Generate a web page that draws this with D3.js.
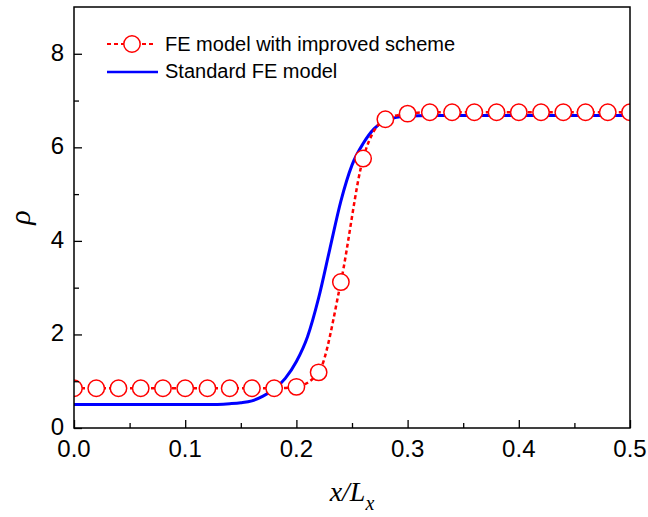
<!DOCTYPE html>
<html>
<head>
<meta charset="utf-8">
<script src="https://cdn.jsdelivr.net/npm/d3@7"></script>
<style>
  body { margin: 0; background: #fff; }
  text { font-family: "Liberation Sans", Arial, sans-serif; }
</style>
</head>
<body>
<div id="chart"></div>
<script>
// improved scheme (circles)
const improvedX = [0, 0.02, 0.04, 0.06, 0.08, 0.10, 0.12, 0.14, 0.16, 0.18, 0.20, 0.22, 0.24, 0.26,
  0.28, 0.30, 0.32, 0.34, 0.36, 0.38, 0.40, 0.42, 0.44, 0.46, 0.48, 0.50]
const improvedY = [0.85, 0.85, 0.85, 0.85, 0.85, 0.85, 0.85, 0.85, 0.85, 0.85, 0.88, 1.19, 3.12, 5.76,
  6.60, 6.72, 6.75, 6.75, 6.75, 6.75, 6.75, 6.75, 6.75, 6.75, 6.75, 6.75]

// standard FE model (solid)
const standardX = [0, 0.04, 0.08, 0.12, 0.14, 0.15, 0.16, 0.17, 0.18, 0.19, 0.20, 0.21, 0.22, 0.23,
  0.24, 0.25, 0.26, 0.27, 0.28, 0.29, 0.30, 0.32, 0.36, 0.40, 0.45, 0.50]
const standardY = [0.50, 0.50, 0.50, 0.50, 0.52, 0.54, 0.58, 0.68, 0.83, 1.06, 1.42, 1.95, 2.78, 3.82,
  4.85, 5.62, 6.08, 6.40, 6.57, 6.64, 6.67, 6.68, 6.68, 6.68, 6.68, 6.68]

const xTicks = [0, 0.1, 0.2, 0.3, 0.4, 0.5]
const yTicks = [0, 2, 4, 6, 8]
const legendLabels = ["FE model with improved scheme", "Standard FE model"]

const width = 648, height = 517
const margin = {left: 74, right: 18, top: 7, bottom: 89}

const svg = d3.select("#chart").append("svg")
    .attr("width", width)
    .attr("height", height)

const x = d3.scaleLinear().domain([0, 0.5]).range([margin.left, width - margin.right])
const y = d3.scaleLinear().domain([0, 9]).range([height - margin.bottom, margin.top])

const improved = improvedX.map((d, i) => ({x: d, y: improvedY[i]}))
const standard = standardX.map((d, i) => ({x: d, y: standardY[i]}))

const line = d3.line().x(d => x(d.x)).y(d => y(d.y)).curve(d3.curveMonotoneX)

svg.append("defs").append("clipPath").attr("id", "clip")
  .append("rect")
    .attr("x", margin.left).attr("y", margin.top)
    .attr("width", x(0.5) - x(0)).attr("height", y(0) - y(9))

// blue line
svg.append("path")
    .datum(standard)
    .attr("d", line)
    .attr("fill", "none")
    .attr("stroke", "#0000ff")
    .attr("stroke-width", 3)

// red dashed line + circles
svg.append("path")
    .datum(improved)
    .attr("d", line)
    .attr("fill", "none")
    .attr("stroke", "#ff0000")
    .attr("stroke-width", 2.5)
    .attr("stroke-dasharray", "4,3")

svg.append("g")
    .attr("clip-path", "url(#clip)")
  .selectAll("circle")
  .data(improved)
  .join("circle")
    .attr("cx", d => x(d.x))
    .attr("cy", d => y(d.y))
    .attr("r", 8.2)
    .attr("fill", "#fff")
    .attr("stroke", "#ff0000")
    .attr("stroke-width", 1.5)

// frame
svg.append("rect")
    .attr("x", x(0)).attr("y", y(9))
    .attr("width", x(0.5) - x(0)).attr("height", y(0) - y(9))
    .attr("fill", "none").attr("stroke", "#000").attr("stroke-width", 1.5)

// x axis
const xAxis = svg.append("g")
    .attr("transform", `translate(0,${y(0)})`)
    .call(d3.axisBottom(x).tickValues(d3.range(0, 0.501, 0.05)).tickSize(-7).tickFormat(""))
xAxis.selectAll(".tick line").attr("stroke-width", 1.3)
  .attr("y2", (d, i) => i % 2 ? -5 : -8)
xAxis.select(".domain").remove()
svg.append("g").selectAll("text")
  .data(xTicks)
  .join("text")
    .attr("x", d => x(d))
    .attr("y", y(0) + 29)
    .attr("text-anchor", "middle")
    .attr("font-size", 24)
    .text(d => d.toFixed(1))

// y axis
const yAxis = svg.append("g")
    .attr("transform", `translate(${x(0)},0)`)
    .call(d3.axisLeft(y).tickValues(d3.range(0, 9, 1)).tickSize(-7).tickFormat(""))
yAxis.selectAll(".tick line").attr("stroke-width", 1.3)
  .attr("x2", (d, i) => i % 2 ? 5 : 8)
yAxis.select(".domain").remove()
svg.append("g").selectAll("text")
  .data(yTicks)
  .join("text")
    .attr("x", x(0) - 10)
    .attr("y", d => y(d) + 7)
    .attr("text-anchor", "end")
    .attr("font-size", 24)
    .text(d => d)

// axis titles
const xt = svg.append("text")
    .attr("x", x(0.25))
    .attr("y", 501)
    .attr("text-anchor", "middle")
    .style("font-family", "'Liberation Serif', 'Times New Roman', serif")
    .style("font-style", "italic")
    .attr("font-size", 28)
xt.append("tspan").text("x/L")
xt.append("tspan").attr("dy", 9).attr("font-size", 20).text("x")

svg.append("text")
    .attr("transform", `translate(30,${y(4.5)}) rotate(-90)`)
    .attr("text-anchor", "middle")
    .style("font-family", "'Liberation Serif', 'Times New Roman', serif")
    .style("font-style", "italic")
    .attr("font-size", 30)
    .text("ρ")

// legend
const leg = svg.append("g")
leg.append("line")
    .attr("x1", 107).attr("x2", 155).attr("y1", 44).attr("y2", 44)
    .attr("stroke", "#ff0000").attr("stroke-width", 2).attr("stroke-dasharray", "4,3")
leg.append("circle")
    .attr("cx", 132).attr("cy", 44).attr("r", 8.2)
    .attr("fill", "#fff").attr("stroke", "#ff0000").attr("stroke-width", 1.5)
leg.append("line")
    .attr("x1", 107).attr("x2", 158).attr("y1", 72).attr("y2", 72)
    .attr("stroke", "#0000ff").attr("stroke-width", 2.5)
leg.selectAll("text")
  .data(legendLabels)
  .join("text")
    .attr("x", 165)
    .attr("y", (d, i) => 51 + i * 27)
    .attr("font-size", 20)
    .text(d => d)
</script>
</body>
</html>
